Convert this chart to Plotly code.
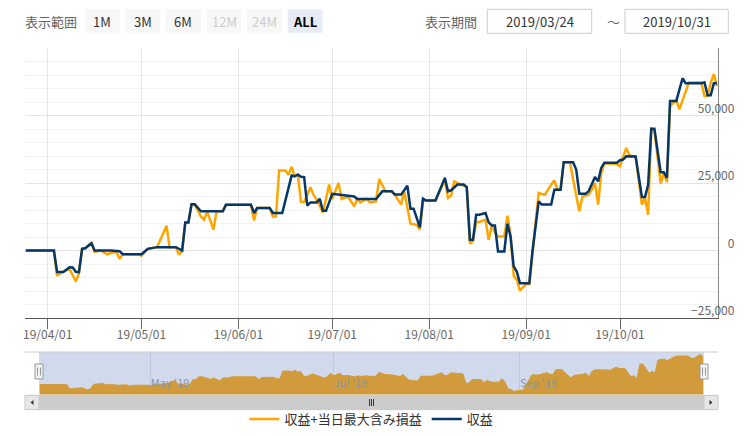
import plotly.graph_objects as go

# ---------------- data ----------------
profit_dates = [
    "2019-03-25", "2019-04-03", "2019-04-04", "2019-04-06", "2019-04-08", "2019-04-09",
    "2019-04-10", "2019-04-11", "2019-04-12", "2019-04-13", "2019-04-15", "2019-04-16",
    "2019-04-21", "2019-04-24", "2019-04-25", "2019-05-01", "2019-05-03", "2019-05-06",
    "2019-05-12", "2019-05-14", "2019-05-15", "2019-05-16", "2019-05-17", "2019-05-18",
    "2019-05-20", "2019-05-27", "2019-05-28", "2019-06-05", "2019-06-06", "2019-06-07",
    "2019-06-11", "2019-06-12", "2019-06-15", "2019-06-18", "2019-06-19", "2019-06-20",
    "2019-06-21", "2019-06-22", "2019-06-23", "2019-06-24", "2019-06-26", "2019-06-27",
    "2019-06-28", "2019-06-29", "2019-07-01", "2019-07-04", "2019-07-08", "2019-07-09",
    "2019-07-15", "2019-07-17", "2019-07-20", "2019-07-21", "2019-07-23", "2019-07-25",
    "2019-07-26", "2019-07-27", "2019-07-29", "2019-07-30", "2019-07-31", "2019-08-03",
    "2019-08-06", "2019-08-07", "2019-08-08", "2019-08-10", "2019-08-12", "2019-08-13",
    "2019-08-14", "2019-08-15", "2019-08-16", "2019-08-17", "2019-08-19", "2019-08-20",
    "2019-08-21", "2019-08-22", "2019-08-23", "2019-08-25", "2019-08-26", "2019-08-27",
    "2019-08-28", "2019-08-29", "2019-08-30", "2019-09-02", "2019-09-03", "2019-09-05",
    "2019-09-06", "2019-09-09", "2019-09-10", "2019-09-12", "2019-09-13", "2019-09-16",
    "2019-09-17", "2019-09-18", "2019-09-20", "2019-09-21", "2019-09-23", "2019-09-24",
    "2019-09-25", "2019-09-26", "2019-09-30", "2019-10-01", "2019-10-02", "2019-10-03",
    "2019-10-06", "2019-10-08", "2019-10-09", "2019-10-10", "2019-10-11", "2019-10-12",
    "2019-10-14", "2019-10-15", "2019-10-16", "2019-10-17", "2019-10-19", "2019-10-21",
    "2019-10-22", "2019-10-27", "2019-10-28", "2019-10-29", "2019-10-30", "2019-10-31",
    "2019-11-01",
]
profit_values = [
    0, 0, -8000, -8000, -6200, -6300,
    -7900, -8000, 600, 800, 2700, 0,
    0, -300, -1400, -1400, 600, 1250,
    1250, 0, 10400, 10400, 17100, 17100,
    14500, 14500, 16900, 16900, 13900, 15750,
    15750, 13900, 13900, 27750, 27500, 28100,
    27300, 27200, 16600, 17800, 17800, 19100,
    14700, 14700, 21000, 20500, 20000, 19100,
    19100, 21900, 21900, 20700, 20700, 24000,
    15500, 15500, 8550, 19200, 18500, 18500,
    26900, 21900, 22300, 24400, 24400, 23500,
    4000, 4000, 13250, 13250, 13900, 10400,
    9300, 9300, -370, -370, 9900, 5200,
    -5900, -7800, -12100, -12100, -370, 18200,
    17000, 17000, 22500, 22500, 32700, 32700,
    30000, 21000, 21000, 22000, 27250, 25600,
    30600, 32500, 32500, 33450, 33700, 34900,
    34800, 19800, 19800, 24400, 45100, 45100,
    29000, 29000, 26900, 55400, 55400, 63800,
    61900, 61900, 62300, 57500, 57500, 61900,
    61900,
]

total_dates = [
    "2019-03-25", "2019-04-03", "2019-04-04", "2019-04-05", "2019-04-08", "2019-04-10",
    "2019-04-11", "2019-04-12", "2019-04-13", "2019-04-15", "2019-04-16", "2019-04-18",
    "2019-04-20", "2019-04-21", "2019-04-23", "2019-04-24", "2019-04-25", "2019-04-30",
    "2019-05-01", "2019-05-03", "2019-05-06", "2019-05-09", "2019-05-10", "2019-05-12",
    "2019-05-13", "2019-05-14", "2019-05-15", "2019-05-16", "2019-05-17", "2019-05-18",
    "2019-05-20", "2019-05-21", "2019-05-22", "2019-05-24", "2019-05-25", "2019-05-27",
    "2019-05-28", "2019-06-05", "2019-06-06", "2019-06-07", "2019-06-11", "2019-06-12",
    "2019-06-13", "2019-06-14", "2019-06-16", "2019-06-17", "2019-06-18", "2019-06-19",
    "2019-06-20", "2019-06-21", "2019-06-22", "2019-06-24", "2019-06-25", "2019-06-26",
    "2019-06-28", "2019-06-30", "2019-07-01", "2019-07-03", "2019-07-04", "2019-07-06",
    "2019-07-08", "2019-07-09", "2019-07-10", "2019-07-12", "2019-07-13", "2019-07-15",
    "2019-07-16", "2019-07-18", "2019-07-20", "2019-07-21", "2019-07-23", "2019-07-24",
    "2019-07-26", "2019-07-28", "2019-07-29", "2019-07-30", "2019-07-31", "2019-08-03",
    "2019-08-06", "2019-08-07", "2019-08-08", "2019-08-09", "2019-08-11", "2019-08-13",
    "2019-08-14", "2019-08-15", "2019-08-16", "2019-08-17", "2019-08-19", "2019-08-20",
    "2019-08-21", "2019-08-22", "2019-08-23", "2019-08-25", "2019-08-26", "2019-08-27",
    "2019-08-28", "2019-08-29", "2019-08-30", "2019-09-01", "2019-09-02", "2019-09-03",
    "2019-09-05", "2019-09-06", "2019-09-07", "2019-09-09", "2019-09-10", "2019-09-11",
    "2019-09-12", "2019-09-13", "2019-09-15", "2019-09-16", "2019-09-18", "2019-09-19",
    "2019-09-21", "2019-09-22", "2019-09-23", "2019-09-24", "2019-09-25", "2019-09-26",
    "2019-09-30", "2019-10-01", "2019-10-03", "2019-10-04", "2019-10-06", "2019-10-08",
    "2019-10-09", "2019-10-10", "2019-10-11", "2019-10-12", "2019-10-14", "2019-10-15",
    "2019-10-16", "2019-10-17", "2019-10-19", "2019-10-20", "2019-10-22", "2019-10-23",
    "2019-10-27", "2019-10-28", "2019-10-29", "2019-10-30", "2019-10-31", "2019-11-01",
]
total_values = [
    0, 0, -9400, -8400, -6800, -11500,
    -8400, 600, 800, 2700, -500, 0,
    -1400, -1000, -500, -3100, -1400, -1400,
    -1900, 600, 1250, 9200, 1250, 1250,
    -1600, 0, 10400, 10400, 17100, 17100,
    12600, 11400, 14500, 7700, 14500, 14500,
    16900, 16900, 11100, 15750, 15750, 12600,
    12600, 29600, 29600, 28100, 31000, 27500,
    28100, 18000, 18000, 23400, 20700, 18800,
    14100, 24400, 19100, 25000, 19100, 20000,
    16350, 19100, 17800, 19100, 17800, 18200,
    26500, 21900, 21900, 20700, 17000, 21900,
    9900, 9500, 7700, 18200, 18500, 18500,
    26000, 19500, 20300, 25600, 24400, 23500,
    2500, 3500, 10550, 10550, 11400, 4000,
    9200, 6700, 5200, 5200, 12900, 5800,
    -9400, -10900, -14850, -12400, -12400, -1600,
    21300, 20950, 20700, 24400, 26000, 22500,
    22500, 32700, 32700, 26300, 14500, 20000,
    20700, 22500, 25000, 17000, 28700, 32300,
    32000, 31200, 38000, 35200, 34800, 17000,
    19500, 13250, 45100, 44500, 24800, 28700,
    25300, 53500, 55700, 52300, 58700, 62200,
    62200, 57200, 57200, 62200, 65300, 60900,
]

x_tick_dates = ["2019-04-01", "2019-05-01", "2019-06-01", "2019-07-01",
                "2019-08-01", "2019-09-01", "2019-10-01"]
y_tick_values = [-25000, 0, 25000, 50000, 75000]
y_tick_labels = ["\u221225,000", "0", "25,000", "50,000", ""]
nav_tick_dates = ["2019-05-01", "2019-07-01", "2019-09-01"]
nav_tick_labels = ["May '19", "Jul '19", "Sep '19"]
range_buttons = ["1M", "3M", "6M", "12M", "24M", "ALL"]
period_start = "2019/03/24"
period_end = "2019/10/31"
series_names = ["収益+当日最大含み損益", "収益"]

# ---------------- layout geometry (page pixels; the page body has an 8px margin) ----------------
OFF = 8
W, H = 753 - 2 * OFF, 436 - 2 * OFF
PLOT_L, PLOT_R, PLOT_T, PLOT_B = 25, 718, 48, 395   # page coords of the plotting area
ML, MR, MT, MB = PLOT_L - OFF, W - (PLOT_R - OFF), PLOT_T - OFF, H - (PLOT_B - OFF)
PW = PLOT_R - PLOT_L
PH = PLOT_B - PLOT_T


def px(x):
    return (x - PLOT_L) / PW


def py(y):
    return (PLOT_B - y) / PH


X_RANGE = ["2019-03-24 18:00", "2019-11-01 08:00"]
NAV_MIN, NAV_MAX = -22600, 71000
FONT = "Noto Sans CJK JP, Noto Sans, sans-serif"
ORANGE = "#FFA500"
NAVY = "#053769"

fig = go.Figure()
fig.add_trace(go.Scatter(x=total_dates, y=total_values, name=series_names[0],
                         mode="lines", line=dict(color=ORANGE, width=2.5),
                         xaxis="x", yaxis="y"))
fig.add_trace(go.Scatter(x=profit_dates, y=profit_values, name=series_names[1],
                         mode="lines", line=dict(color=NAVY, width=2.5),
                         xaxis="x", yaxis="y"))
# navigator: area of first series, filled to the bottom of the navigator
fig.add_trace(go.Scatter(x=[total_dates[0], total_dates[-1]], y=[NAV_MIN, NAV_MIN],
                         mode="lines", line=dict(width=0, color=ORANGE),
                         showlegend=False, hoverinfo="skip", xaxis="x2", yaxis="y2"))
fig.add_trace(go.Scatter(x=total_dates, y=total_values, mode="lines",
                         fill="tonexty", fillcolor=ORANGE,
                         line=dict(color=ORANGE, width=1),
                         showlegend=False, hoverinfo="skip", xaxis="x2", yaxis="y2"))

shapes = []
annotations = []

# navigator mask (whole range selected)
shapes.append(dict(type="rect", xref="x2 domain", yref="y2 domain", x0=0, x1=1, y0=0, y1=1,
                   fillcolor="rgba(102,133,194,0.3)", line=dict(width=0), layer="above"))
# navigator outline
shapes.append(dict(type="line", xref="paper", yref="paper", x0=0, x1=1, y0=py(352), y1=py(352),
                   line=dict(color="#cccccc", width=1), layer="above"))
# handles
for hx in (39, 704):
    shapes.append(dict(type="rect", xref="paper", yref="paper",
                       x0=px(hx - 4), x1=px(hx + 4), y0=py(364), y1=py(379),
                       fillcolor="#f2f2f2", line=dict(color="#999999", width=1), layer="above"))
    for lx in (hx - 1.5, hx + 1.5):
        shapes.append(dict(type="line", xref="paper", yref="paper",
                           x0=px(lx), x1=px(lx), y0=py(367.5), y1=py(375.5),
                           line=dict(color="#999999", width=1), layer="above"))
# scrollbar
shapes.append(dict(type="rect", xref="paper", yref="paper", x0=0, x1=1, y0=py(395), y1=py(410),
                   fillcolor="#f2f2f2", line=dict(color="#f2f2f2", width=1)))
shapes.append(dict(type="rect", xref="paper", yref="paper", x0=px(39), x1=px(704),
                   y0=py(395.5), y1=py(409.5),
                   fillcolor="#cccccc", line=dict(color="#cccccc", width=1)))
for bx0, bx1 in ((25, 39), (704, 718)):
    shapes.append(dict(type="rect", xref="paper", yref="paper", x0=px(bx0), x1=px(bx1),
                       y0=py(395.5), y1=py(409.5),
                       fillcolor="#e6e6e6", line=dict(color="#cccccc", width=1)))


def tri(points):
    return "M " + " L ".join(f"{px(a):.5f},{py(b):.5f}" for a, b in points) + " Z"


shapes.append(dict(type="path", xref="paper", yref="paper",
                   path=tri([(30.5, 402.5), (33.5, 400), (33.5, 405)]),
                   fillcolor="#333333", line=dict(width=0)))
shapes.append(dict(type="path", xref="paper", yref="paper",
                   path=tri([(712.5, 402.5), (709.5, 400), (709.5, 405)]),
                   fillcolor="#333333", line=dict(width=0)))
for rx in (369.5, 371.5, 373.5):
    shapes.append(dict(type="line", xref="paper", yref="paper", x0=px(rx), x1=px(rx),
                       y0=py(399), y1=py(406), line=dict(color="#333333", width=1)))

# range selector
annotations.append(dict(text="表示範囲", xref="paper", yref="paper", x=px(51), y=py(21.5),
                        showarrow=False, xanchor="center", yanchor="middle",
                        font=dict(size=13, color="#666666", family=FONT)))
btn_x0 = [85, 125.3, 166, 206.7, 247, 287.7]
for i, label in enumerate(range_buttons):
    x0 = btn_x0[i]
    x1 = x0 + 34.7
    active = label == "ALL"
    disabled = label in ("12M", "24M")
    shapes.append(dict(type="rect", xref="paper", yref="paper", x0=px(x0), x1=px(x1),
                       y0=py(32.7), y1=py(9.3),
                       fillcolor="#e6ebf5" if active else "#f7f7f7", line=dict(width=0)))
    annotations.append(dict(text=f"<b>{label}</b>" if active else label,
                            xref="paper", yref="paper", x=px((x0 + x1) / 2), y=py(21.5),
                            showarrow=False, xanchor="center", yanchor="middle",
                            font=dict(size=13, family=FONT,
                                      color="#000000" if active else ("#cccccc" if disabled else "#333333"))))
annotations.append(dict(text="表示期間", xref="paper", yref="paper", x=px(451), y=py(21.5),
                        showarrow=False, xanchor="center", yanchor="middle",
                        font=dict(size=13, color="#666666", family=FONT)))
for (bx0, bx1), txt in (((487.3, 591.7), period_start), ((625, 728.3), period_end)):
    shapes.append(dict(type="rect", xref="paper", yref="paper", x0=px(bx0), x1=px(bx1),
                       y0=py(33.3), y1=py(9.3), fillcolor="#ffffff",
                       line=dict(color="#cccccc", width=1)))
    annotations.append(dict(text=txt, xref="paper", yref="paper", x=px((bx0 + bx1) / 2),
                            y=py(21.5), showarrow=False, xanchor="center", yanchor="middle",
                            font=dict(size=13, color="#333333", family=FONT)))
annotations.append(dict(text="～", xref="paper", yref="paper", x=px(613), y=py(21.5),
                        showarrow=False, xanchor="center", yanchor="middle",
                        font=dict(size=13, color="#666666", family=FONT)))

fig.update_layout(
    width=W, height=H,
    margin=dict(l=ML, r=MR, t=MT, b=MB, pad=0, autoexpand=False),
    paper_bgcolor="#ffffff", plot_bgcolor="#ffffff",
    font=dict(family=FONT, color="#666666", size=12),
    showlegend=True,
    legend=dict(orientation="h", x=0.5, xanchor="center", y=py(419), yanchor="middle",
                font=dict(size=13, color="#333333", family=FONT),
                itemwidth=30, traceorder="normal", bgcolor="rgba(0,0,0,0)"),
    xaxis=dict(domain=[0, 1], anchor="y", type="date", range=X_RANGE,
               tickvals=x_tick_dates, tickformat="%y/%m/%d",
               ticks="outside", ticklen=10, tickcolor="#666666",
               ticklabelstandoff=-4,
               showgrid=True, gridcolor="#e6e6e6", gridwidth=1,
               showline=True, linecolor="#555555", linewidth=1,
               tickfont=dict(size=12, color="#666666", family=FONT),
               zeroline=False, fixedrange=True, automargin=False),
    yaxis=dict(domain=[py(318), 1], anchor="x", side="right",
               range=[-25000, 75000], tickvals=y_tick_values, ticktext=y_tick_labels,
               ticks="", showgrid=True, gridcolor="#e3e3e3", gridwidth=1,
               minor=dict(dtick=5000, tick0=0, showgrid=True, gridcolor="#f3f3f3", ticks=""),
               showline=True, linecolor="#888888", linewidth=1,
               ticklabelposition="inside", ticklabelstandoff=-17, ticklabelshift=-7,
               ticklabeloverflow="allow",
               tickfont=dict(size=12, color="#666666", family=FONT),
               zeroline=False, fixedrange=True, automargin=False),
    xaxis2=dict(domain=[px(39), px(704)], anchor="y2", type="date", range=X_RANGE,
                tickvals=nav_tick_dates, ticktext=nav_tick_labels,
                ticks="", showgrid=True, gridcolor="#e6e6e6",
                ticklabelposition="inside right",
                tickfont=dict(size=11, color="#999999", family=FONT),
                showline=False, zeroline=False, fixedrange=True, automargin=False),
    yaxis2=dict(domain=[0, py(352)], anchor="x2", range=[NAV_MIN, NAV_MAX],
                showgrid=False, showticklabels=False, zeroline=False, showline=False,
                fixedrange=True, automargin=False),
    shapes=shapes,
    annotations=annotations,
)

fig.write_html("out.html")
